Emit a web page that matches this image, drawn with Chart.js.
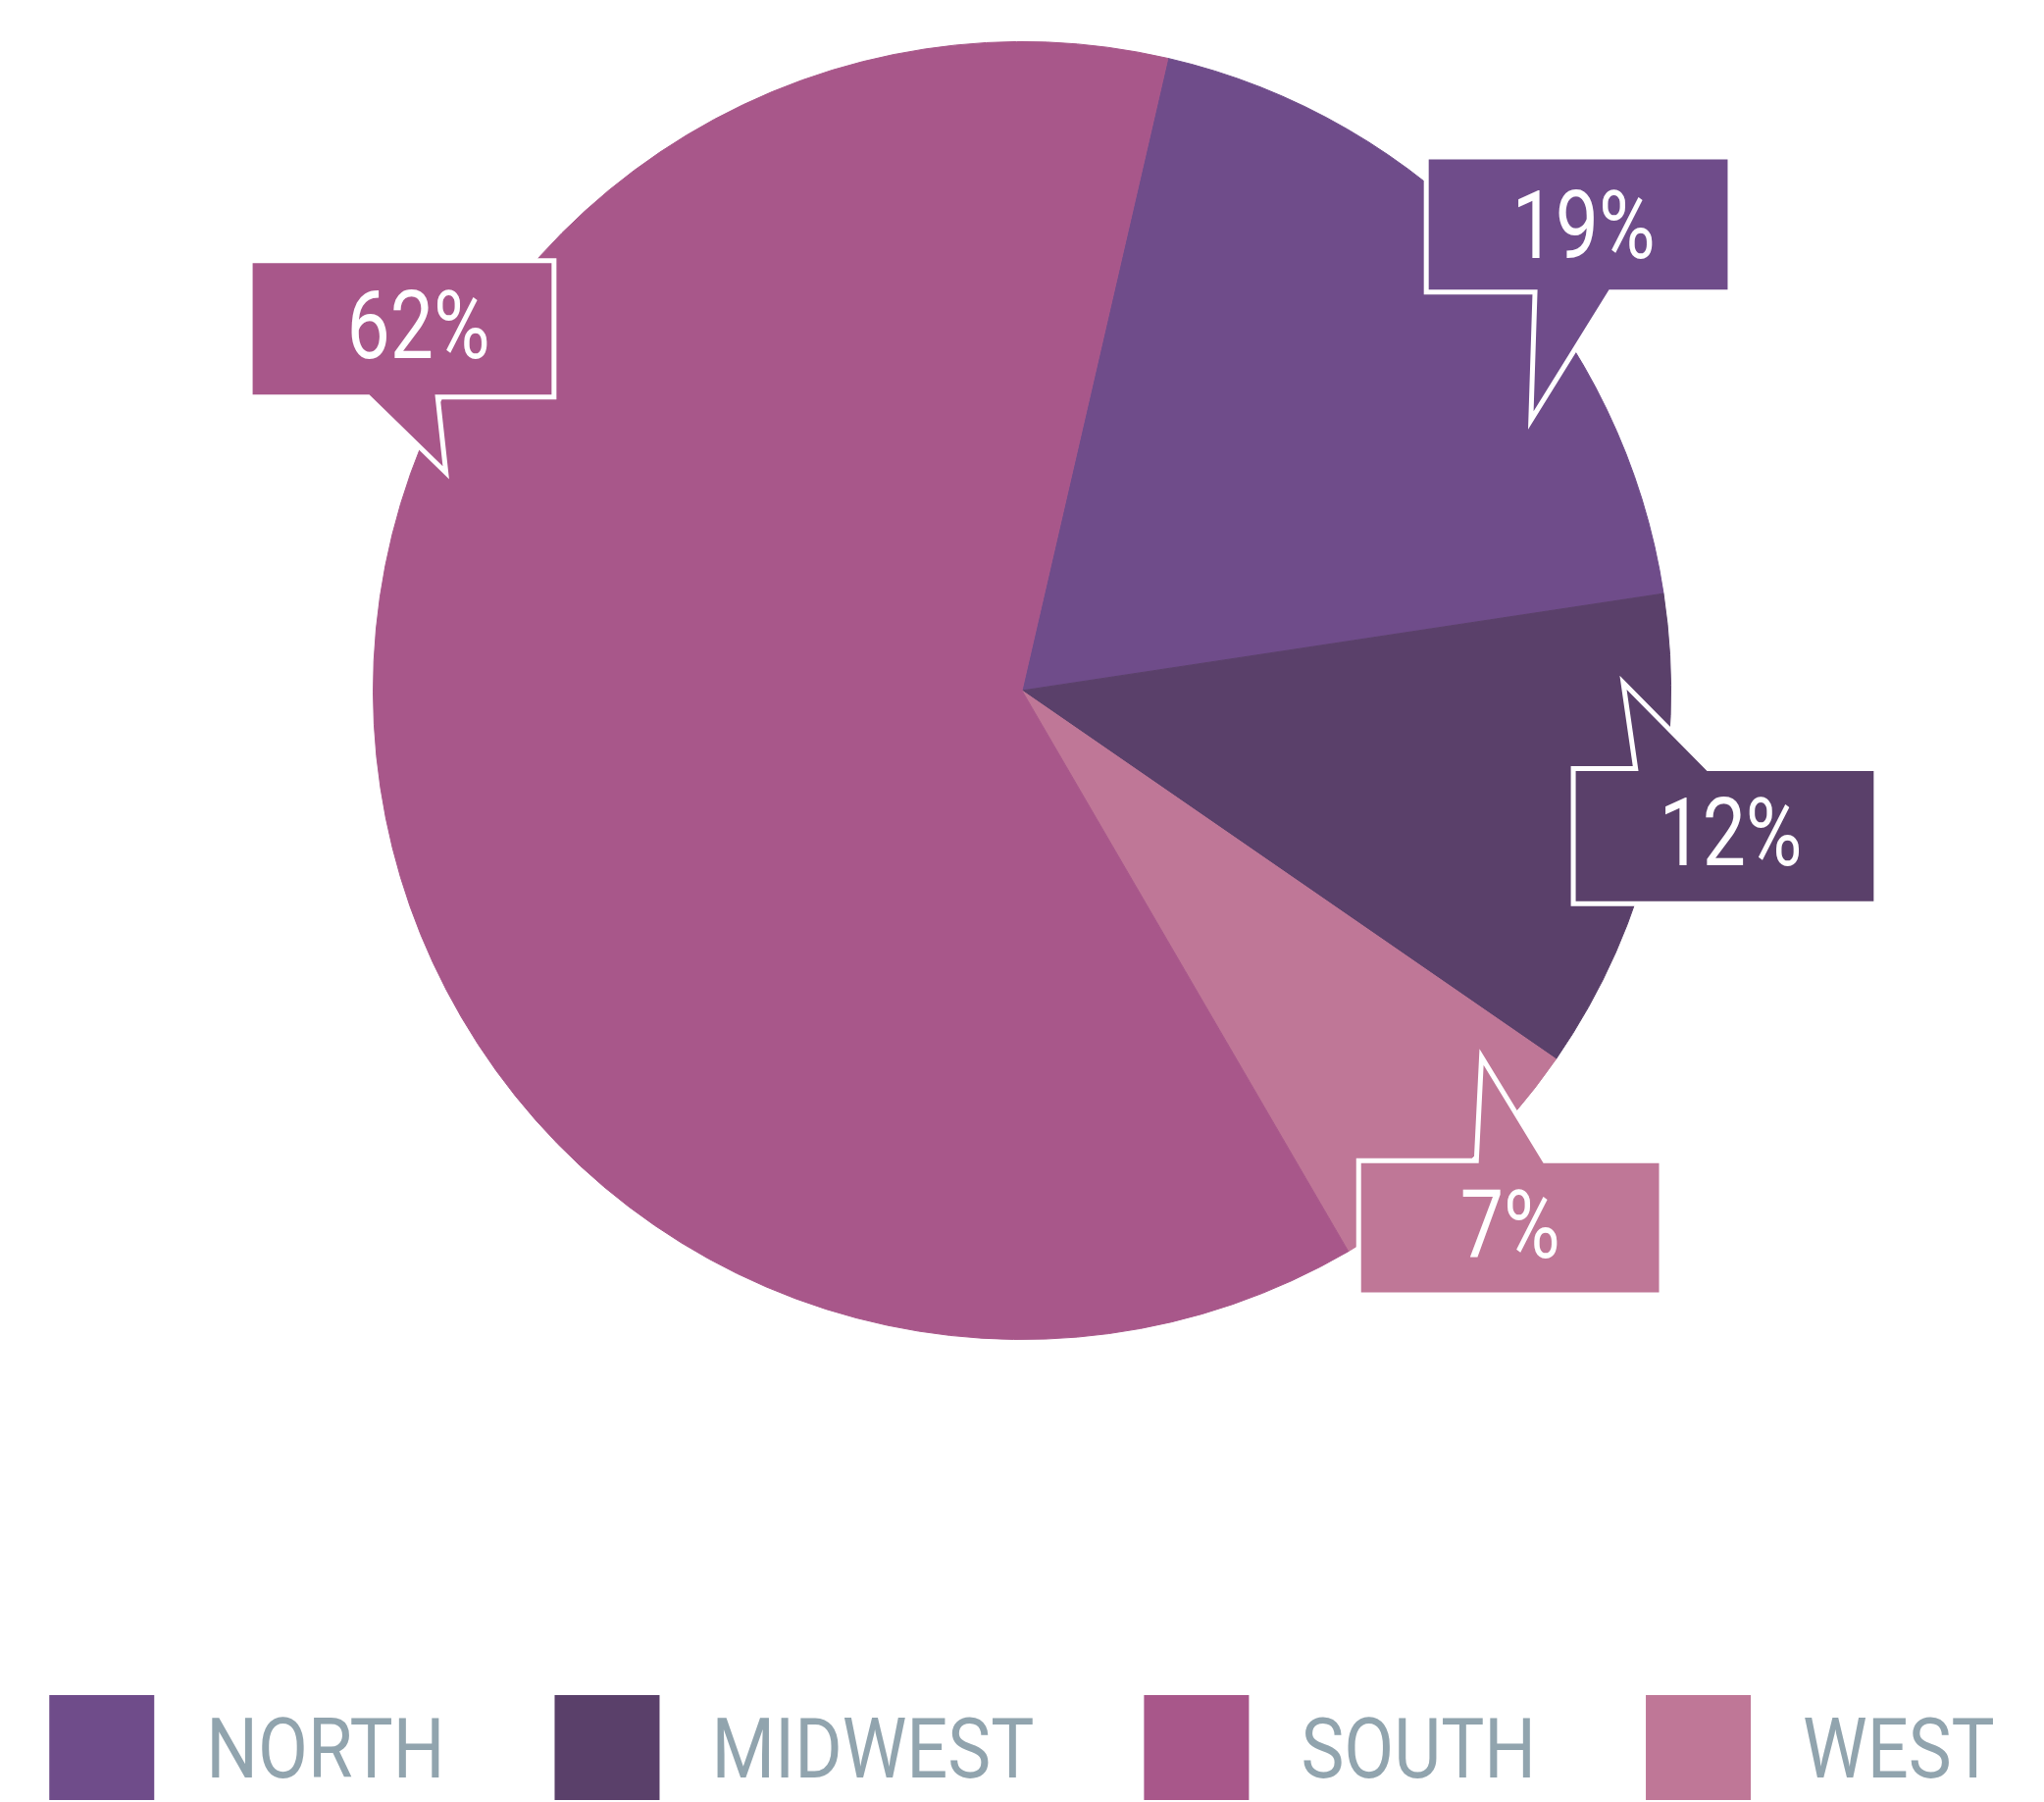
<!DOCTYPE html>
<html>
<head>
<meta charset="utf-8">
<title>Share by region</title>
<script src="https://cdn.jsdelivr.net/npm/chart.js@4.4.1/dist/chart.umd.min.js"></script>
<style>
  html, body { margin: 0; padding: 0; background: #fff; }
  #wrap { width: 2084px; height: 1837px; position: relative; }
</style>
</head>
<body>
<div id="wrap"><canvas id="regionChart"></canvas></div>
<script>
// slices go clockwise starting a bit right of 12 o'clock
const regions = ['NORTH', 'MIDWEST', 'WEST', 'SOUTH'];
const shares = [19, 12, 7, 62];
const colors = ['#6f4c8a', '#5a406a', '#bf7797', '#a8578a'];
// the legend lists them in a different order than the slices
const legendOrder = ['NORTH', 'MIDWEST', 'SOUTH', 'WEST'];

// callout boxes, px relative to the pie centre for a 662px radius
// box: [left, top, w, h], tail: [edge, from x, to x], tip: [x, y], text: [centre x, baseline]
const calloutLayout = [
    { box: [415, -542, 305, 133], tail: ['bottom', 526, 599], tip: [522, -285], text: [573, -441] },
    { box: [565, 82, 304, 133], tail: ['top', 629, 699], tip: [617, -1], text: [723, 178] },
    { box: [346, 482, 304, 132], tail: ['top', 466, 532], tip: [471, 382], text: [498, 578] },
    { box: [-785, -436, 305, 134], tail: ['bottom', -666, -599], tip: [-591, -229], text: [-616, -339] }
];

const SQUEEZE = 0.82; // fake a condensed face from Roboto

const calloutPlugin = {
    id: 'callouts',
    afterDatasetsDraw(chart) {
        const ctx = chart.ctx;
        const meta = chart.getDatasetMeta(0);
        meta.data.forEach((arc, i) => {
            const c = calloutLayout[i];
            if (!c) return;
            const k = arc.outerRadius / 662;
            const px = v => arc.x + v * k;
            const py = v => arc.y + v * k;
            const L = px(c.box[0]), T = py(c.box[1]);
            const R = px(c.box[0] + c.box[2]), B = py(c.box[1] + c.box[3]);
            const a = px(c.tail[1]), b = px(c.tail[2]);
            const tx = px(c.tip[0]), ty = py(c.tip[1]);

            ctx.save();
            ctx.beginPath();
            if (c.tail[0] === 'bottom') {
                ctx.moveTo(L, T);
                ctx.lineTo(R, T);
                ctx.lineTo(R, B);
                ctx.lineTo(b, B);
                ctx.lineTo(tx, ty);
                ctx.lineTo(a, B);
                ctx.lineTo(L, B);
            } else {
                ctx.moveTo(L, T);
                ctx.lineTo(a, T);
                ctx.lineTo(tx, ty);
                ctx.lineTo(b, T);
                ctx.lineTo(R, T);
                ctx.lineTo(R, B);
                ctx.lineTo(L, B);
            }
            ctx.closePath();
            ctx.lineJoin = 'miter';
            ctx.miterLimit = 10;
            ctx.lineWidth = 10 * k;
            ctx.strokeStyle = '#ffffff';
            ctx.stroke();
            ctx.fillStyle = colors[i];
            ctx.fill();

            ctx.translate(px(c.text[0]), py(c.text[1]));
            ctx.scale(SQUEEZE, 1);
            ctx.fillStyle = '#ffffff';
            ctx.font = `400 ${Math.round(96 * k)}px Roboto`;
            ctx.textAlign = 'center';
            ctx.textBaseline = 'alphabetic';
            ctx.fillText(shares[i] + '%', 0, 0);
            ctx.restore();
        });
    }
};

const legendPlugin = {
    id: 'bottomLegend',
    afterDraw(chart) {
        const ctx = chart.ctx;
        const size = 107, gapText = 53, gapItem = 112, fontPx = 86, squeeze = 0.86;
        const top = chart.height - size - 2;
        ctx.save();
        ctx.font = `400 ${fontPx}px Roboto`;
        const widths = legendOrder.map(name => ctx.measureText(name).width * squeeze);
        const total = widths.reduce((s, w) => s + size + gapText + w, 0) + gapItem * (widths.length - 1);
        let x = (chart.width - total) / 2;
        legendOrder.forEach((name, n) => {
            const i = regions.indexOf(name);
            ctx.fillStyle = colors[i];
            ctx.fillRect(x, top, size, size);
            x += size + gapText;
            ctx.save();
            ctx.translate(x, top + size / 2 + fontPx * 0.355);
            ctx.scale(squeeze, 1);
            ctx.fillStyle = '#91a4ae';
            ctx.textAlign = 'left';
            ctx.textBaseline = 'alphabetic';
            ctx.fillText(name, 0, 0);
            ctx.restore();
            x += widths[n] + gapItem;
        });
        ctx.restore();
    }
};

document.addEventListener('DOMContentLoaded', function() {
    const ctx = document.getElementById('regionChart').getContext('2d');
    new Chart(ctx, {
        type: 'pie',
        data: {
            labels: regions,
            datasets: [{
                data: shares,
                backgroundColor: colors,
                borderColor: colors,
                borderWidth: 1,
                hoverOffset: 0
            }]
        },
        options: {
            responsive: true,
            maintainAspectRatio: false,
            animation: false,
            rotation: 13,
            layout: {
                padding: { top: 42, bottom: 471, left: 0, right: 0 }
            },
            plugins: {
                legend: { display: false },
                tooltip: { enabled: false }
            }
        },
        plugins: [calloutPlugin, legendPlugin]
    });
});
</script>
</body>
</html>
